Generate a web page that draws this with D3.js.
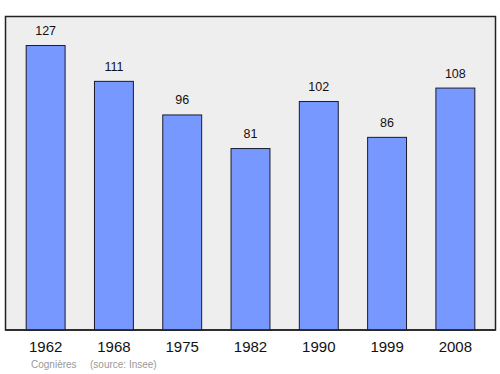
<!DOCTYPE html>
<html>
<head>
<meta charset="utf-8">
<script src="https://cdn.jsdelivr.net/npm/d3@7"></script>
<style>
  body { margin: 0; background: #fff; }
  text { font-family: "Liberation Sans", Arial, sans-serif; }
</style>
</head>
<body>
<svg id="mainsvg" width="500" height="374"></svg>
<script>
const years = ['1962', '1968', '1975', '1982', '1990', '1999', '2008'];
const population = [127, 111, 96, 81, 102, 86, 108];
const footer = ['Cognières', '(source: Insee)'];

const svg = d3.select('#mainsvg');
const frame = { left: 5.5, top: 16.5, right: 495.5, bottom: 330 };

svg.append('rect')
    .attr('x', frame.left)
    .attr('y', frame.top)
    .attr('width', frame.right - frame.left)
    .attr('height', frame.bottom - frame.top)
    .attr('fill', '#eeeeee')
    .attr('stroke', '#222')
    .attr('stroke-width', 1.5);

const x = d3.scaleBand()
    .domain(years)
    .range([11.5, 489.5])
    .paddingInner(0.43)
    .paddingOuter(0.215);

const y = d3.scaleLinear()
    .domain([0, 140])
    .range([frame.bottom, frame.bottom - 140 * 2.24]);

const data = years.map((yr, i) => ({ year: yr, value: population[i] }));

svg.selectAll('rect.bar').data(data).enter()
    .append('rect')
    .attr('class', 'bar')
    .attr('x', d => x(d.year))
    .attr('y', d => y(d.value))
    .attr('width', x.bandwidth())
    .attr('height', d => y(0) - y(d.value))
    .attr('fill', '#7799ff')
    .attr('stroke', '#1a1a2e')
    .attr('stroke-width', 1);

svg.selectAll('text.val').data(data).enter()
    .append('text')
    .attr('class', 'val')
    .attr('x', d => x(d.year) + x.bandwidth() / 2)
    .attr('y', d => y(d.value) - 10.5)
    .attr('text-anchor', 'middle')
    .attr('font-size', '12.5px')
    .attr('fill', '#111')
    .text(d => d.value);

// frame bottom line drawn again over bars
svg.append('line')
    .attr('x1', frame.left).attr('x2', frame.right)
    .attr('y1', frame.bottom).attr('y2', frame.bottom)
    .attr('stroke', '#222').attr('stroke-width', 1.5);

const xAxis = d3.axisBottom(x).tickSize(0).tickPadding(11);
const ax = svg.append('g')
    .attr('transform', `translate(0,${frame.bottom})`)
    .call(xAxis);
ax.select('.domain').remove();
ax.selectAll('text')
    .attr('font-size', '15px')
    .attr('fill', '#111')
    .style('font-family', '"Liberation Sans", Arial, sans-serif');

svg.append('text')
    .attr('x', 31).attr('y', 368)
    .attr('font-size', '10px')
    .attr('fill', '#999')
    .text(footer[0]);
svg.append('text')
    .attr('x', 90).attr('y', 368)
    .attr('font-size', '10px')
    .attr('fill', '#999')
    .text(footer[1]);
</script>
</body>
</html>
